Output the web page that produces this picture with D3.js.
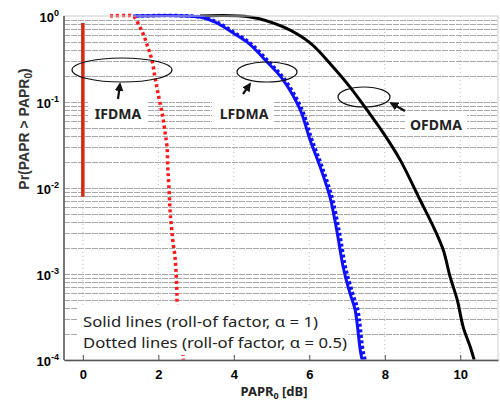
<!DOCTYPE html>
<html>
<head>
<meta charset="utf-8">
<script src="https://cdn.jsdelivr.net/npm/d3@7"></script>
<style>
  body { margin: 0; background: #fff; }
  svg { display: block; }
</style>
</head>
<body>
<div class="chart"></div>
<script>
// x ticks and y decades
const xTicks = [0, 2, 4, 6, 8, 10];
const yDecades = [0, -1, -2, -3, -4];

// IFDMA, roll-off 1 (vertical line at 0 dB)
const ifdmaSolid = [[0, 0.83], [0, 0.0079]];
// IFDMA, roll-off 0.5
const ifdmaDotted = [[0.72, 1], [1.33, 1], [1.38, 0.95], [1.59, 0.63], [1.72, 0.436], [1.83, 0.308],
  [1.91, 0.195], [1.99, 0.127], [2.10, 0.0744], [2.18, 0.0437], [2.23, 0.030], [2.25, 0.0175],
  [2.28, 0.0103], [2.31, 0.0055], [2.33, 0.0042], [2.36, 0.0031], [2.39, 0.0023], [2.44, 0.0016],
  [2.47, 0.00103], [2.49, 0.00065], [2.50, 0.00041], [2.58, 0.00022], [2.63, 0.00016], [2.66, 0.0001]];
// LFDMA
const lfdmaSolid = [[1.33, 1], [3.10, 0.973], [3.55, 0.829], [3.98, 0.634], [4.38, 0.486], [4.88, 0.292],
  [5.31, 0.180], [5.76, 0.0807], [6.02, 0.0362], [6.29, 0.0175], [6.55, 0.0078], [6.74, 0.0030],
  [6.90, 0.00119], [7.08, 0.00059], [7.21, 0.00039], [7.35, 0.000130], [7.40, 0.0001]];
const lfdmaDotted = [[1.40, 1], [3.14, 0.973], [3.60, 0.829], [4.03, 0.634], [4.43, 0.486], [4.93, 0.292],
  [5.36, 0.180], [5.81, 0.0807], [6.07, 0.0362], [6.34, 0.0175], [6.60, 0.0078], [6.80, 0.0030],
  [6.96, 0.00119], [7.15, 0.00059], [7.28, 0.00039], [7.42, 0.000130], [7.48, 0.0001]];
// OFDMA
const ofdmaSolid = [[3.10, 1], [4.43, 0.973], [5.31, 0.745], [6.02, 0.486], [6.63, 0.255], [7.08, 0.149],
  [7.53, 0.0808], [7.96, 0.0437], [8.41, 0.0211], [8.94, 0.0072], [9.28, 0.0036], [9.55, 0.0019],
  [9.73, 0.00093], [9.92, 0.00050], [10.08, 0.00024], [10.27, 0.00014], [10.37, 0.0001]];

const W = 500, H = 404;
const margin = {top: 16, right: 2, bottom: 44, left: 64};
const w = W - margin.left - margin.right;
const h = H - margin.top - margin.bottom;

const svg = d3.select(".chart").append("svg")
  .attr("width", W).attr("height", H);

const g = svg.append("g")
  .attr("transform", `translate(${margin.left},${margin.top})`);

const x = d3.scaleLinear().domain([-0.5, 11]).range([0, w]);
const y = d3.scaleLog().domain([1e-4, 1]).range([h, 0]);

// horizontal grid at every log step
const minor = [];
yDecades.slice(1).forEach(e => {
  for (let k = 1; k < 10; k++) minor.push(k * Math.pow(10, e));
});
g.append("g").selectAll("line")
  .data(minor)
  .join("line")
  .attr("x1", 0).attr("x2", w)
  .attr("y1", d => Math.round(y(d)) + 0.5).attr("y2", d => Math.round(y(d)) + 0.5)
  .attr("stroke", "#a8a8a8")
  .attr("stroke-width", 1.2)
  .attr("stroke-dasharray", "6,1");

// vertical dotted grid
g.append("g").selectAll("line")
  .data(xTicks)
  .join("line")
  .attr("x1", d => x(d)).attr("x2", d => x(d))
  .attr("y1", 0).attr("y2", h)
  .attr("stroke", "#bbb")
  .attr("stroke-dasharray", "1,3");

const curve = d3.line().curve(d3.curveCatmullRom).x(d => x(d[0])).y(d => y(d[1]));

g.append("path").datum(ofdmaSolid)
  .attr("fill", "none").attr("stroke", "black").attr("stroke-width", 3)
  .attr("d", curve);

g.append("path").datum(lfdmaDotted)
  .attr("fill", "none").attr("stroke", "#1010ff").attr("stroke-width", 3.5)
  .attr("stroke-dasharray", "3,2.5")
  .attr("d", curve);

g.append("path").datum(lfdmaSolid)
  .attr("fill", "none").attr("stroke", "#1010ff").attr("stroke-width", 3)
  .attr("d", curve);

g.append("path").datum(ifdmaDotted)
  .attr("fill", "none").attr("stroke", "#ff1a1a").attr("stroke-width", 3.5)
  .attr("stroke-dasharray", "3,3")
  .attr("d", curve);

g.append("path").datum(ifdmaSolid)
  .attr("fill", "none").attr("stroke", "#d42a10").attr("stroke-width", 3.5)
  .attr("d", d3.line().x(d => x(d[0])).y(d => y(d[1])));

// white boxes for labels
const boxes = [
  {x: 88, y: 100, w: 60, h: 25},
  {x: 212, y: 100, w: 62, h: 25},
  {x: 405, y: 111, w: 62, h: 25},
  {x: 77, y: 305, w: 271, h: 50}
];
svg.append("g").selectAll("rect")
  .data(boxes)
  .join("rect")
  .attr("x", d => d.x).attr("y", d => d.y)
  .attr("width", d => d.w).attr("height", d => d.h)
  .attr("fill", "white");

// box frame
g.append("rect")
  .attr("width", w).attr("height", h)
  .attr("fill", "none").attr("stroke", "#ccc");

// bottom axis
const xAxis = g.append("g")
  .attr("transform", `translate(0,${h})`)
  .call(d3.axisBottom(x).tickValues(xTicks).tickSizeInner(-5).tickSizeOuter(0).tickPadding(10))
  .attr("font-family", "Liberation Sans, Arial, sans-serif")
  .attr("font-weight", "bold")
  .attr("font-size", 13);
xAxis.select(".domain").attr("stroke", "#555").attr("stroke-width", 1.5);
xAxis.selectAll(".tick line").attr("stroke", "#555");

// left axis
g.append("line")
  .attr("x1", 0).attr("x2", 0).attr("y1", 0).attr("y2", h)
  .attr("stroke", "#555").attr("stroke-width", 1.5);

const yLab = g.append("g").selectAll("text")
  .data(yDecades)
  .join("text")
  .attr("x", -5)
  .attr("y", d => y(Math.pow(10, d)) + 6)
  .attr("text-anchor", "end")
  .attr("font-family", "Liberation Sans, Arial, sans-serif")
  .attr("font-weight", "bold")
  .attr("font-size", 13);
yLab.append("tspan").text("10");
yLab.append("tspan").attr("dy", -6).attr("font-size", 9).text(d => d);

// axis titles
const yTitle = svg.append("text")
  .attr("transform", "translate(29,129) rotate(-90)")
  .attr("text-anchor", "middle")
  .attr("font-family", "Liberation Sans, Arial, sans-serif")
  .attr("font-size", 14)
  .attr("font-weight", "bold")
  .attr("fill", "#333");
yTitle.append("tspan").text("Pr(PAPR > PAPR");
yTitle.append("tspan").attr("dy", 3).attr("font-size", 10).text("0");
yTitle.append("tspan").attr("dy", -3).text(")");

const xTitle = svg.append("text")
  .attr("x", 274).attr("y", 396)
  .attr("text-anchor", "middle")
  .attr("font-family", "Noto Sans, sans-serif")
  .attr("font-weight", "bold")
  .attr("font-size", 13)
  .attr("fill", "#222");
xTitle.append("tspan").text("PAPR");
xTitle.append("tspan").attr("dy", 3).attr("font-size", 9).text("0");
xTitle.append("tspan").attr("dy", -3).text(" [dB]");

// ellipses
const ellipses = [
  {cx: 122, cy: 70, rx: 50, ry: 12},
  {cx: 267, cy: 72, rx: 30, ry: 10},
  {cx: 364, cy: 97, rx: 26, ry: 10}
];
svg.append("g").selectAll("ellipse")
  .data(ellipses)
  .join("ellipse")
  .attr("cx", d => d.cx).attr("cy", d => d.cy)
  .attr("rx", d => d.rx).attr("ry", d => d.ry)
  .attr("fill", "none").attr("stroke", "#111").attr("stroke-width", 1.2);

svg.append("defs").append("marker")
  .attr("id", "ah").attr("viewBox", "0 0 10 10")
  .attr("refX", 8).attr("refY", 5)
  .attr("markerWidth", 4).attr("markerHeight", 4)
  .attr("orient", "auto")
  .append("path").attr("d", "M0,0L10,5L0,10z").attr("fill", "#111");

const arrows = [
  {x1: 118, y1: 99, x2: 120, y2: 84},
  {x1: 243, y1: 94, x2: 250, y2: 84},
  {x1: 405, y1: 111, x2: 391, y2: 103}
];
svg.append("g").selectAll("line")
  .data(arrows)
  .join("line")
  .attr("x1", d => d.x1).attr("y1", d => d.y1)
  .attr("x2", d => d.x2).attr("y2", d => d.y2)
  .attr("stroke", "#111").attr("stroke-width", 2.2)
  .attr("marker-end", "url(#ah)");

const labels = [
  {x: 118, y: 119, t: "IFDMA"},
  {x: 244, y: 119, t: "LFDMA"},
  {x: 436, y: 130, t: "OFDMA"}
];
svg.append("g").selectAll("text")
  .data(labels)
  .join("text")
  .attr("x", d => d.x).attr("y", d => d.y)
  .attr("text-anchor", "middle")
  .attr("font-family", "Noto Sans, sans-serif")
  .attr("font-weight", "bold")
  .attr("font-size", 14)
  .attr("fill", "#222")
  .text(d => d.t);

const legend = [
  {y: 327, t: "Solid lines (roll-of factor, \u03b1 = 1)", len: 235},
  {y: 348, t: "Dotted lines (roll-of factor, \u03b1 = 0.5)", len: 264}
];
svg.append("g").selectAll("text")
  .data(legend)
  .join("text")
  .attr("x", 83).attr("y", d => d.y)
  .attr("font-family", "Noto Sans, sans-serif")
  .attr("font-size", 15)
  .attr("fill", "#222")
  .attr("textLength", d => d.len)
  .attr("lengthAdjust", "spacingAndGlyphs")
  .text(d => d.t);
</script>
</body>
</html>
